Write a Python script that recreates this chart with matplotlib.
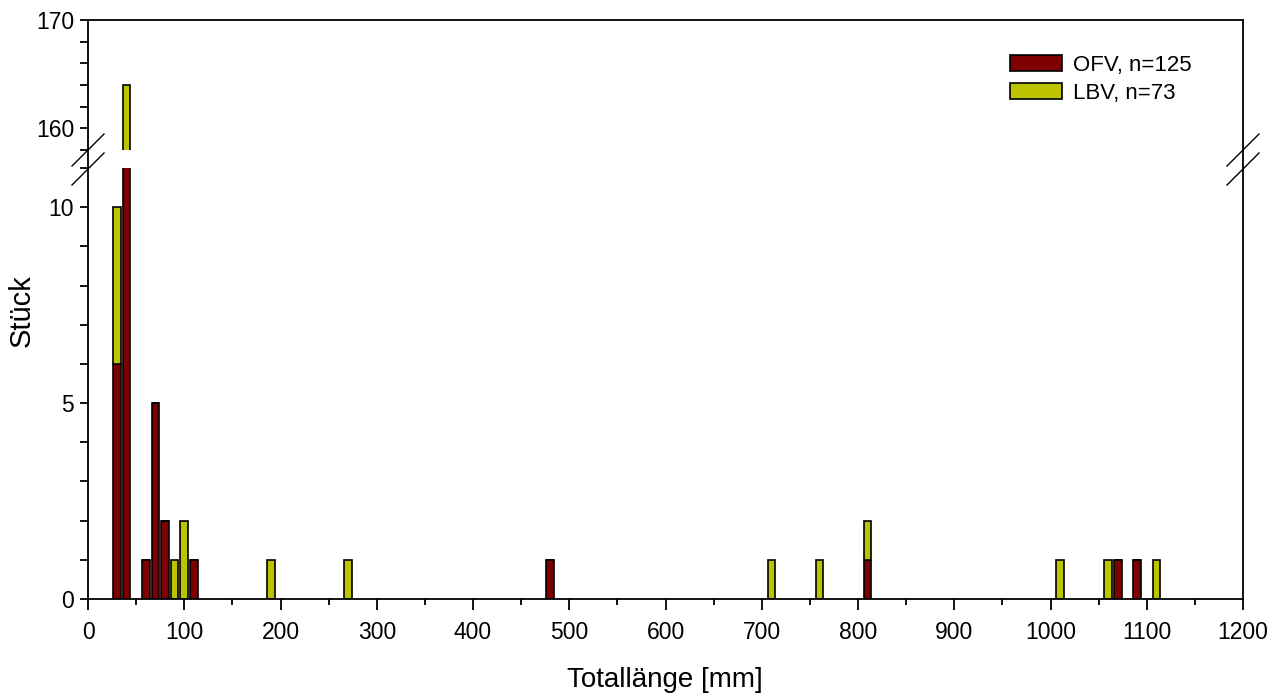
import matplotlib
matplotlib.use("Agg")
import matplotlib.pyplot as plt
from matplotlib.lines import Line2D
from matplotlib.ticker import MultipleLocator

plt.rcParams['font.family'] = ['Liberation Sans', 'DejaVu Sans']

# Totallänge [mm] and counts per class
laenge = [30, 40, 60, 70, 80, 90, 100, 110, 190, 270, 480, 710, 760, 810, 1010, 1060, 1070, 1090, 1110]
ofv = [6, 106, 1, 5, 2, 0, 0, 1, 0, 0, 1, 0, 0, 1, 0, 0, 1, 1, 0]
lbv = [4, 58, 0, 0, 0, 1, 2, 0, 1, 1, 0, 1, 1, 1, 1, 1, 0, 0, 1]

red = '#7f0000'
yel = '#bcc300'

W, H = 1285, 698
fig = plt.figure(figsize=(W / 100, H / 100), dpi=100)

x0, x1 = 88, 1243
top_up, bot_up = 20, 150
top_lo, bot_lo = 168, 599

ax_up = fig.add_axes([x0 / W, 1 - bot_up / H, (x1 - x0) / W, (bot_up - top_up) / H])
ax_lo = fig.add_axes([x0 / W, 1 - bot_lo / H, (x1 - x0) / W, (bot_lo - top_lo) / H])

for ax in (ax_up, ax_lo):
    ax.bar(laenge, ofv, width=8, color=red, edgecolor='black', linewidth=1.2, label='OFV, n=125')
    ax.bar(laenge, lbv, width=8, bottom=ofv, color=yel, edgecolor='black', linewidth=1.2, label='LBV, n=73')
    ax.set_xlim(0, 1200)
    for s in ax.spines.values():
        s.set_linewidth(1.3)

ax_up.set_ylim(158, 170)
ax_up.yaxis.set_major_locator(MultipleLocator(10))
ax_up.yaxis.set_minor_locator(MultipleLocator(2))
ax_up.spines['bottom'].set_visible(False)
ax_up.tick_params(axis='x', which='both', bottom=False, labelbottom=False)

ax_lo.set_ylim(0, 11)
ax_lo.yaxis.set_major_locator(MultipleLocator(5))
ax_lo.yaxis.set_minor_locator(MultipleLocator(1))
ax_lo.xaxis.set_major_locator(MultipleLocator(100))
ax_lo.xaxis.set_minor_locator(MultipleLocator(50))
ax_lo.spines['top'].set_visible(False)

for ax in (ax_up, ax_lo):
    ax.tick_params(axis='y', which='both', direction='out', length=6, width=1.3, labelsize=16.5, pad=4)
ax_lo.tick_params(axis='x', which='major', direction='out', length=8, width=1.3, labelsize=16.5, pad=8)
ax_lo.tick_params(axis='x', which='minor', direction='out', length=4.5, width=1.3)

# continuous side spines through the break
for xp in (x0, x1):
    fig.add_artist(Line2D([xp / W, xp / W], [1 - bot_up / H, 1 - top_lo / H], color='black', lw=1.3))
    for yc in (bot_up, top_lo + 1):
        d = 16
        fig.add_artist(Line2D([(xp - d) / W, (xp + d) / W], [1 - (yc + d) / H, 1 - (yc - d) / H],
                              color='black', lw=1))

leg = ax_up.legend(loc='upper left', bbox_to_anchor=(1010 / W, 1 - 55 / H), bbox_transform=fig.transFigure,
                   frameon=False, fontsize=16, borderpad=0, borderaxespad=0,
                   handlelength=2.35, handleheight=0.75, handletextpad=0.5, labelspacing=0.3)

fig.text(665 / W, 1 - 680 / H, 'Totallänge [mm]', ha='center', va='center', fontsize=20)
fig.text(22 / W, 1 - 311 / H, 'Stück', ha='center', va='center', rotation=90, fontsize=21)

fig.savefig('out.png', dpi=100)
